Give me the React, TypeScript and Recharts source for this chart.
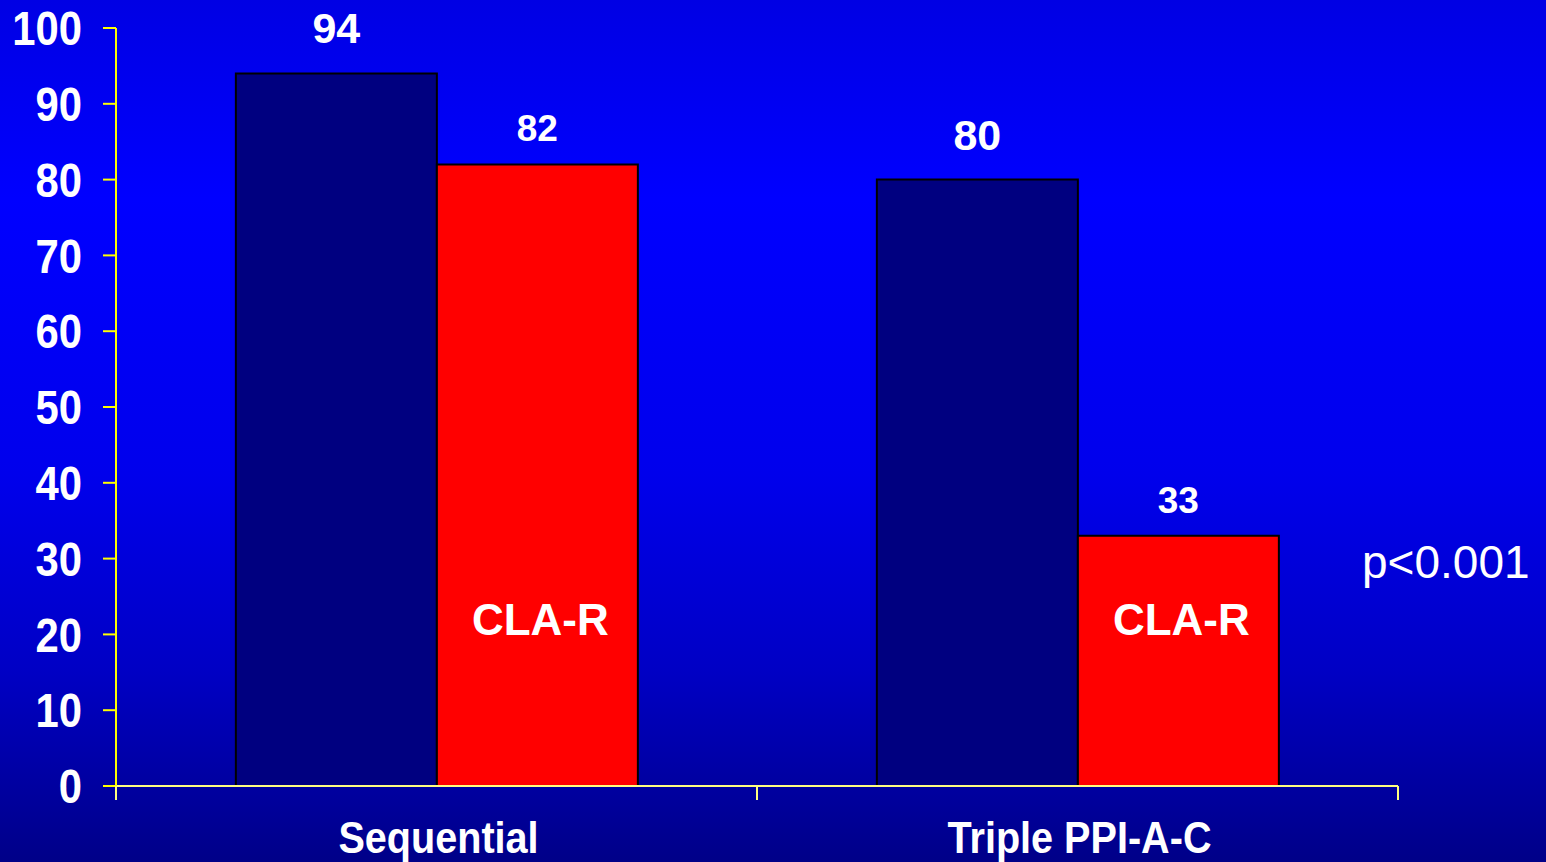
import React from 'react';
import { BarChart, Bar, XAxis, YAxis, LabelList } from 'recharts';

// eradication rates (%) per regimen
const regimens = ['Sequential', 'Triple PPI-A-C'];
const allPatients = [94, 80];
const claResistant = [82, 33];
const yTicks = [0, 10, 20, 30, 40, 50, 60, 70, 80, 90, 100];
const resistantTag = 'CLA-R';
const pValueText = 'p<0.001';

const data = regimens.map((name, i) => ({
  name,
  all: allPatients[i],
  clar: claResistant[i],
}));

const FONT = '"Liberation Sans", Arial, Helvetica, sans-serif';
const YELLOW = '#FFFF00';

const YTick = ({ x, y, payload }: any) => (
  <g transform={`translate(${x},${y})`}>
    <text
      transform="scale(0.87,1)"
      textAnchor="end"
      dy="0.36em"
      fill="#fff"
      fontSize={48}
      fontWeight="bold"
      fontFamily={FONT}
    >
      {payload.value}
    </text>
  </g>
);

// category label plus tick marks on the band edges
const XTick = ({ x, y, payload, width, visibleTicksCount }: any) => {
  const half = width / visibleTicksCount / 2;
  const axisY = y - 36;
  return (
    <g>
      <line x1={x - half} x2={x - half} y1={axisY} y2={axisY + 14} stroke="#FFFF80" strokeWidth={2} />
      <line x1={x + half} x2={x + half} y1={axisY} y2={axisY + 14} stroke="#FFFF80" strokeWidth={2} />
      <g transform={`translate(${x + 2},${y})`}>
        <text
          transform="scale(0.9,1)"
          textAnchor="middle"
          dy="0.71em"
          fill="#fff"
          fontSize={44}
          fontWeight="bold"
          fontFamily={FONT}
        >
          {payload.value}
        </text>
      </g>
    </g>
  );
};

const ClarLabel = (props: any) => {
  const vb = props.viewBox ?? props;
  const { x, y, width, height } = vb;
  return (
    <text
      x={x + width / 2 + 3}
      y={y + height - 151}
      textAnchor="middle"
      fill="#fff"
      fontSize={44}
      fontWeight="bold"
      fontFamily={FONT}
    >
      {resistantTag}
    </text>
  );
};

export default function App() {
  return (
    <div
      style={{
        position: 'absolute',
        left: 0,
        top: 0,
        width: 1546,
        height: 862,
        background:
          'linear-gradient(to bottom, #0000E4 0%, #0000FF 23%, #0000EC 55%, #0000C4 78%, #000088 100%)',
      }}
    >
      <BarChart
        width={1546}
        height={862}
        data={data}
        margin={{ top: 28, right: 148, bottom: 0, left: 0 }}
        barCategoryGap="18.7%"
        barGap={0}
      >
        <XAxis
          dataKey="name"
          height={76}
          axisLine={{ stroke: '#FFFF80', strokeWidth: 2 }}
          tickLine={false}
          tickSize={14}
          tickMargin={22}
          tick={<XTick />}
          interval={0}
        />
        <YAxis
          width={116}
          domain={[0, 100]}
          ticks={yTicks}
          interval={0}
          axisLine={{ stroke: YELLOW, strokeWidth: 2 }}
          tickLine={{ stroke: YELLOW, strokeWidth: 2 }}
          tickSize={13}
          tickMargin={21}
          tick={<YTick />}
        />
        <Bar dataKey="all" fill="#000080" stroke="#000" strokeWidth={2} isAnimationActive={false}>
          <LabelList
            dataKey="all"
            position="top"
            offset={30}
            fill="#fff"
            fontSize={43}
            fontWeight="bold"
            fontFamily={FONT}
          />
        </Bar>
        <Bar dataKey="clar" fill="#FF0000" stroke="#000" strokeWidth={2} isAnimationActive={false}>
          <LabelList
            dataKey="clar"
            position="top"
            offset={23}
            fill="#fff"
            fontSize={37}
            fontWeight="bold"
            fontFamily={FONT}
          />
          <LabelList dataKey="clar" content={<ClarLabel />} />
        </Bar>
      </BarChart>
      <svg
        width={1546}
        height={862}
        style={{ position: 'absolute', left: 0, top: 0, pointerEvents: 'none' }}
      >
        <text x={1362} y={578} fill="#fff" fontSize={46} fontFamily={FONT}>
          {pValueText}
        </text>
      </svg>
    </div>
  );
}
